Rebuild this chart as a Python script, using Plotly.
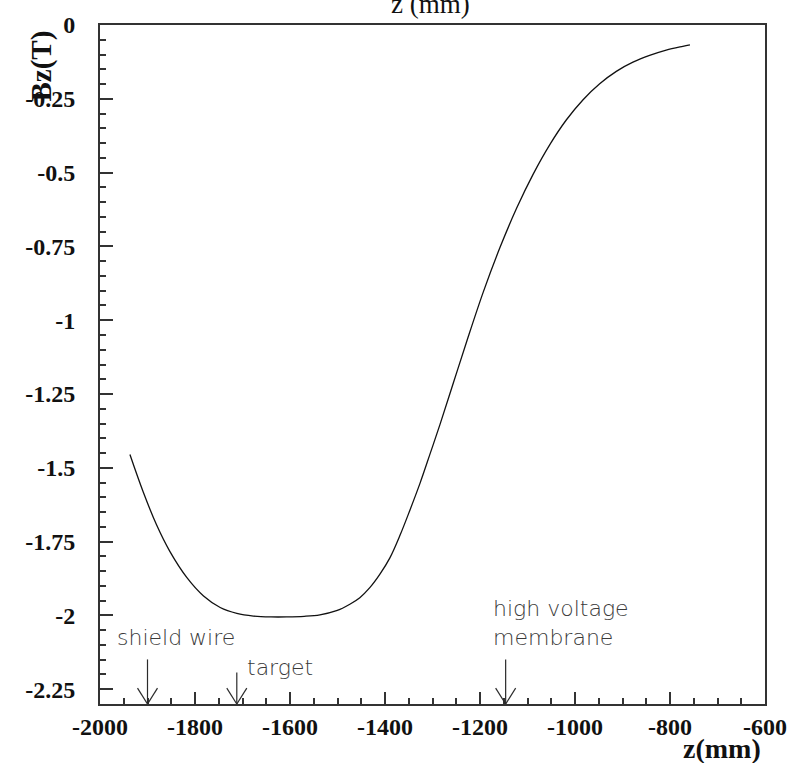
import plotly.graph_objects as go

# Longitudinal magnetic field along the beam axis
z_mm = [-1937, -1909, -1881, -1853, -1817, -1782, -1747, -1712, -1677, -1640,
        -1607, -1570, -1537, -1502, -1474, -1453, -1432, -1411, -1390, -1368,
        -1347, -1326, -1305, -1284, -1256, -1228, -1193, -1158, -1123, -1088,
        -1053, -1018, -983, -948, -913, -878, -843, -808, -773, -758]
bz_t = [-1.455, -1.582, -1.693, -1.783, -1.872, -1.934, -1.973, -1.993, -2.002, -2.005,
        -2.005, -2.003, -1.998, -1.984, -1.962, -1.940, -1.906, -1.861, -1.806, -1.727,
        -1.641, -1.551, -1.452, -1.352, -1.212, -1.072, -0.904, -0.754, -0.621, -0.505,
        -0.405, -0.321, -0.253, -0.199, -0.157, -0.126, -0.103, -0.085, -0.072, -0.067]

x_tickvals = [-2000, -1800, -1600, -1400, -1200, -1000, -800, -600]
x_ticktext = ["-2000", "-1800", "-1600", "-1400", "-1200", "-1000", "-800", "-600"]
y_tickvals = [0, -0.25, -0.5, -0.75, -1, -1.25, -1.5, -1.75, -2, -2.25]
y_ticktext = ["0", "-0.25", "-0.5", "-0.75", "-1", "-1.25", "-1.5", "-1.75", "-2", "-2.25"]

# Detector elements marked on the axis: (label lines, z position, arrow top)
markers = [
    (["shield wire"], -1900, -2.149),
    (["target"], -1712, -2.193),
    (["high voltage", "membrane"], -1146, -2.149),
]

X_RANGE = [-2000, -600]
Y_RANGE = [-2.3, 0]

W, H = 807, 763
ML, MR, MT, MB = 100, 42, 18, 59
plot_w = W - ML - MR
plot_h = H - MT - MB
px_x = (X_RANGE[1] - X_RANGE[0]) / plot_w   # mm per pixel
px_y = (Y_RANGE[1] - Y_RANGE[0]) / plot_h   # T per pixel

serif = "Liberation Serif, Times New Roman, serif"
sans = "DejaVu Sans, sans-serif"
ink = "#2b2b2b"

fig = go.Figure()
fig.add_trace(go.Scatter(x=z_mm, y=bz_t, mode="lines",
                         line=dict(color="#111111", width=1.3, shape="spline", smoothing=1.0),
                         hoverinfo="skip", showlegend=False))

shapes = []
annotations = []
for lines, zpos, ytop in markers:
    ytip = Y_RANGE[0]
    shapes.append(dict(type="line", xref="x", yref="y", x0=zpos, x1=zpos, y0=ytop, y1=ytip,
                       line=dict(color=ink, width=1.2)))
    for s in (-1, 1):
        shapes.append(dict(type="line", xref="x", yref="y",
                           x0=zpos + s * 10 * px_x, y0=ytip + 16 * px_y, x1=zpos, y1=ytip,
                           line=dict(color=ink, width=1.2)))

# label text blocks (left-aligned, one annotation per line)
label_pos = {
    "shield wire": (-1968, -2.075),
    "target": (-1695, -2.176),
    "high voltage": (-1177, -1.977),
    "membrane": (-1177, -2.075),
}
for lines, zpos, ytop in markers:
    for ln in lines:
        lx, ly = label_pos[ln]
        annotations.append(dict(text=ln, x=lx, y=ly, xref="x", yref="y", showarrow=False,
                                xanchor="left", yanchor="middle",
                                font=dict(family=sans, size=22, color="#3a3a3a", weight=200)))

annotations += [
    dict(text="z (mm)", xref="paper", yref="paper", x=(430 - ML) / plot_w, y=1 + (MT + 3) / plot_h,
         xanchor="center", yanchor="middle", showarrow=False,
         font=dict(family=serif, size=27, color="#111111")),
    dict(text="Bz(T)", xref="paper", yref="paper", x=(42 - ML) / plot_w, y=1 - (60 - MT) / plot_h,
         xanchor="center", yanchor="middle", textangle=-90, showarrow=False,
         font=dict(family=serif, size=29, color="#111111", weight="bold")),
    dict(text="z(mm)", xref="paper", yref="paper", x=(763 - ML) / plot_w, y=-(749 - (H - MB)) / plot_h,
         xanchor="right", yanchor="middle", showarrow=False,
         font=dict(family=serif, size=28, color="#111111", weight="bold")),
]

axis_common = dict(showgrid=False, zeroline=False, showline=True, linecolor="#333333",
                   linewidth=2, mirror=True, ticks="inside", tickcolor="#333333",
                   tickwidth=1.5, fixedrange=True,
                   tickfont=dict(family=serif, size=24, color="#111111", weight="bold"))

fig.update_xaxes(range=X_RANGE, tickvals=x_tickvals, ticktext=x_ticktext, ticklen=12,
                 ticklabelstandoff=0,
                 minor=dict(dtick=50, tick0=-2000, ticks="inside", ticklen=6,
                            tickcolor="#333333", tickwidth=1.5),
                 **axis_common)
fig.update_yaxes(range=Y_RANGE, tickvals=y_tickvals, ticktext=y_ticktext, ticklen=13,
                 ticklabelstandoff=18,
                 minor=dict(dtick=0.05, tick0=0, ticks="inside", ticklen=6,
                            tickcolor="#333333", tickwidth=1.5),
                 **axis_common)

fig.update_layout(width=W, height=H, margin=dict(l=ML, r=MR, t=MT, b=MB),
                  paper_bgcolor="white", plot_bgcolor="white",
                  shapes=shapes, annotations=annotations, showlegend=False)

fig.write_html("out.html")
